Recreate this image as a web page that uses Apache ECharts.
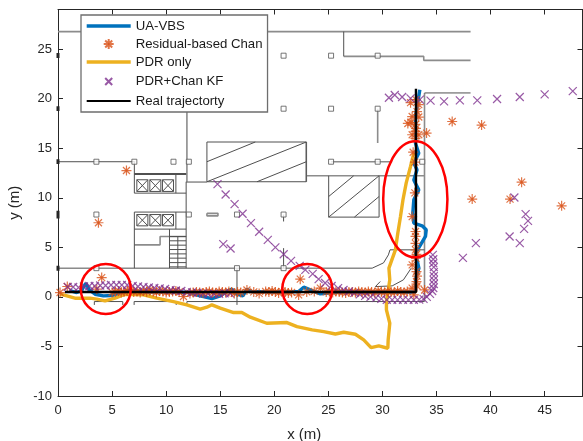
<!DOCTYPE html>
<html><head><meta charset="utf-8">
<style>html,body{margin:0;padding:0;background:#fff}#c{width:583px;height:441px}</style>
<script src="https://cdn.jsdelivr.net/npm/echarts@6/dist/echarts.min.js"></script>
</head><body><div id="c"></div>
<script>
const seriesNames = ['UA-VBS','Residual-based Chan','PDR only','PDR+Chan KF','Real trajectorty'];
const realPath = [[0.65,0.5],[33.1,0.5],[33.1,21]];
const uaVbs = [[1.11,.64],[1.73,.44],[2.19,.64],[2.56,1.38],[2.9,.71],[3.43,.27],[4.2,.1],[4.97,.14],[5.74,.37],[6.51,.64],[8,.5],[10,.55],[12,.45],[13.15,.1],[14.23,-.17],[15,.1],[15.77,.64],[16.08,.78],[16.54,.27],[17.1,.1],[17.47,.78],[17.9,.54],[20,.5],[22.25,.54],[22.72,.98],[23.5,.64],[24.26,.3],[26,.5],[30,.5],[33.06,.5],[33.06,1.72],[33.37,2.9],[33.06,4.41],[33.52,5.25],[33.98,6.1],[34.05,6.77],[33.67,7.17],[32.9,7.44],[32.81,8.45],[32.9,9.8],[33.36,10.8],[32.9,11.8],[33.2,12.83],[32.9,13.5],[33.36,14.5],[33.06,15.5],[33.06,16.5],[33.06,18.2],[33.2,19.2],[33.46,20.9]];
const pdrOnly = [[.19,.27],[.49,.2],[1.57,-.13],[2.96,-.13],[3.58,-.23],[4.35,-.4],[5.28,-.13],[6.2,.27],[7.9,.2],[9.14,-.13],[10.68,-.47],[11.91,-.8],[13.15,-1.24],[13.77,-1.04],[14.23,-.8],[15,-1.14],[16.24,-1.58],[17,-1.58],[17.78,-2.05],[19.3,-2.66],[21.17,-2.59],[22.1,-3],[23.5,-3.33],[24.57,-3.5],[25.65,-3.74],[26.42,-3.57],[27.5,-3.77],[28.27,-4.34],[28.95,-5.12],[29.66,-4.95],[30.5,-5.18],[30.53,-4.34],[30.68,-2.66],[30.37,-1.31],[30.37,-.47],[30.5,.37],[30.68,1.72],[30.6,2.9],[31.2,4.75],[31.42,6.43],[31.67,8.12],[31.9,9.8],[32.2,11.5],[32.6,13.17],[32.9,14.5]];
const chanPoints = [[6.33,12.75],[3.74,7.48],[4.04,1.95],[22.4,1.79],[22.25,.2],[.19,.44],[.86,1.05],[3.58,.78],[11.6,.04],[24.26,.88],[17.47,.7],[36.45,17.7],[39.17,17.34],[34.08,16.53],[42.87,11.58],[38.3,9.87],[41.8,9.87],[46.57,9.19],[33.9,.7],
[32.6,19.6],[33.1,19.9],[33.36,19.4],[33.2,18.7],[32.75,18.2],[33.36,18.15],[32.35,17.5],[32.65,17.6],[33.05,17.4],[33.1,17],[33.05,16.7],[32.75,16.36],[33.36,16.36],[33.05,16],[32.84,14.6],[33,13.6],[33,10.5],[32.75,8.1],[33.06,6.6],[33.06,6.1],[33.06,5.4],[33.06,4.75],[33.15,4.3],[33.1,3.9],[32.75,3.23],[33.15,2.56],[33.2,2.1],[33.15,1.55],[33.2,1.1],[32.75,.88],[32.9,.2],
[5,.45],[5.3,.5],[5.6,.6],[5.85,.45],[6.1,.5],[6.4,.6],[6.7,.7],[7,.5],[7.3,.55],[7.6,.45],[7.9,.6],[8.2,.5],[8.5,.7],[8.8,.55],[9.1,.45],[9.4,.6],[9.7,.55],[10,.45],[10.3,.5],[10.6,.55],[10.9,.6],[11.2,.5],[12.2,.35],[12.5,.45],[12.8,.5],[13.1,.45],[13.4,.4],[13.7,.5],[14,.55],[14.3,.45],[14.6,.4],[14.9,.55],[15.2,.5],[15.5,.45],[15.8,.55],[16.05,.5],[16.3,.35],[16.6,.5],[16.9,.45],[18.1,.5],[18.6,.35],[19.2,.55],[19.5,.5],[19.8,.6],[20.1,.5],[20.4,.4],[20.7,.55],[21,.5],[21.3,.4],[21.6,.45],[23,.5],[23.7,.55],[24.8,.5],[25.1,.55],[25.4,.45],[25.7,.55],[26,.5],[26.3,.45],[26.6,.4],[26.9,.5],[27.2,.5],[27.5,.45],[27.8,.55],[28.1,.5],[28.4,.45],[28.7,.55],[29,.5],[29.3,.4],[29.6,.6],[29.9,.5],[30.2,.45],[30.5,.55],[30.8,.5],[31.1,.45],[31.4,.6],[31.7,.5],[32,.45],[32.3,.55]];
const kfPoints = [[.9,1.0],[1.4,1.0],[1.9,.95],[2.4,1.05],[2.9,1.1],[3.4,1.1],[3.9,1.15],[4.4,1.15],[4.9,1.2],[5.4,1.2],[5.9,1.2],[6.4,1.2],[6.9,1.1],[7.4,1.05],[7.9,1],[8.4,.95],[8.9,.9],[9.4,.85],[9.9,.8],[10.4,.7],[10.9,.65],[11.4,.6],[11.9,.5],[12.4,.45],[12.9,.4],[13.4,.35],[13.9,.3],[14.4,.3],[14.9,.3],[15.4,.35],[15.9,.35],
[14.75,11.38],[15.5,10.33],[15.28,5.32],[15.96,4.88],[16.33,9.36],[17.07,8.39],[17.84,7.44],[18.6,6.57],[19.4,5.76],[20.1,5],[20.87,4.3],[21.55,3.64],[22.35,3.13],[22.87,2.73],[23.55,2.33],[24.1,1.8],[24.7,1.4],[25.3,1.1],[25.9,.88],[26.4,.7],[26.9,.55],[27.4,.4],[27.9,.25],[28.4,.1],[28.9,0],[29.4,-.1],[29.9,-.2],[30.4,-.3],[30.9,-.3],[31.4,-.3],[31.9,-.3],[32.4,-.3],[32.9,-.3],[33.4,-.28],[33.8,-.2],[34.1,0],[34.4,.3],[34.6,.6],[34.7,.9],[34.75,1.3],[34.75,1.7],[34.75,2.1],[34.75,2.5],[34.75,3],[34.7,3.4],[34.7,3.8],[34.66,4.24],
[30.6,20.1],[31.14,20.37],[31.82,20.17],[32.6,20.03],[33.46,19.9],[34.45,19.8],[35.7,19.73],[37.16,19.83],[38.77,19.83],[40.6,19.97],[42.7,20.17],[45,20.44],[47.6,20.77],
[42.2,10.03],[43.24,8.35],[43.46,7.67],[43.1,6.87],[41.76,6.09],[42.7,5.42],[38.64,5.42],[37.44,3.94]];
const ellipses = [[4.42,.8,2.31,2.52],[23.05,.8,2.31,2.52],[33.04,9.85,2.97,5.86]];
const pillars = [[3.55,13.64],[7.06,13.64],[10.68,13.64],[12.1,13.64],[20.86,24.34],[20.86,18.99],[25.25,24.34],[29.56,24.34],[25.25,18.99],[29.56,18.99],[25.25,13.64],[29.56,13.64],[33.68,13.64],[3.55,8.31],[12.1,8.31],[16.55,8.31],[20.86,8.31],[3.55,2.9],[16.55,2.9],[20.86,2.9]];
const edgePillars = [[[0,24.6],[0,24.1]],[[0,19.25],[0,18.75]],[[0,13.9],[0,13.4]],[[0,8.7],[0,7.9]],[[0,3.15],[0,2.65]]];
const grayWalls = [
 [[0,26.77],[38.15,26.77]],
 [[33.89,20.58],[33.89,-.47]],
 [[11.92,26.77],[11.92,11.62]],
 [[22.96,12.22],[33.89,12.22]],
 [[22.96,15.63],[22.96,11.62]],
 [[25.25,13.64],[30.9,13.64]],
 [[29.56,18.99],[29.56,15.53]],
 [[26.42,24.27],[33.82,24.27],[33.82,23.87],[38.15,23.87]],
 [[13.77,8.43],[14.79,8.43],[14.79,8.18],[13.77,8.18],[13.77,8.43]],
 [[7.06,5.25],[9.44,5.25],[9.44,6.09],[11.85,6.09]]
];
const darkWalls = [
 [[26.42,26.77],[26.42,24.27]],
 [[33.89,20.58],[38.15,20.58]],
 [[0,13.64],[7.13,13.64]],
 [[7.06,12.39],[11.85,12.39]],
 [[7.06,13.64],[7.06,10.47],[11.85,10.47]],
 [[10.9,12.39],[10.9,10.47]],
 [[7.06,8.56],[11.85,8.56]],
 [[7.06,8.56],[7.06,2.9]],
 [[10.9,8.56],[10.9,6.84]],
 [[7.06,6.84],[11.85,6.84]],
 [[11.85,11.62],[11.85,2.9]],
 [[11.85,11.59],[13.77,11.59]],
 [[10.31,6.84],[10.31,2.9]],
 [[10.31,6.09],[11.85,6.09]],[[10.31,5.66],[11.85,5.66]],[[10.31,5.22],[11.85,5.22]],[[10.31,4.78],[11.85,4.78]],[[10.31,4.34],[11.85,4.34]],[[10.31,3.91],[11.85,3.91]],[[10.31,3.46],[11.85,3.46]],[[10.31,3.03],[11.85,3.03]],
 [[11.08,6.09],[11.08,2.9]],
 [[0,2.9],[29.05,2.9],[30.1,3.43],[30.55,4.24],[30.7,4.75],[33.89,4.75]],
 [[29.35,1.04],[30.9,1.11],[31.94,1.72],[32.66,2.9]],
 [[29.35,1.04],[29.8,1.55]],
 [[3.36,-.81],[3.36,-.47],[5.99,-.47],[5.99,-.81]],
 [[7.04,-.81],[7.04,-.47],[10.93,-.47],[10.93,-.81]],
 [[11.92,-.81],[11.92,-.47],[33.89,-.47]],
 [[16.55,2.9],[16.55,-.81]],
 [[20.86,4.92],[20.86,2.9]],
 [[20.86,8.31],[20.86,7.61]],
 [[13.77,15.63],[22.96,15.63],[22.96,11.62],[13.77,11.62],[13.77,15.63]],
 [[13.77,13.64],[18.24,15.63]],[[13.77,11.62],[22.96,15.63]],[[18.4,11.62],[22.96,13.64]],
 [[25.03,12.22],[25.03,8.05],[29.69,8.05],[29.69,12.22]],
 [[25.03,10.13],[27.34,12.22]],[[25.03,8.05],[29.69,12.22]],[[27.41,8.05],[29.69,10.13]],
 [[7.29,11.82],[8.31,11.82],[8.31,10.64],[7.29,10.64],[7.29,11.82],[8.31,10.64]],[[8.31,11.82],[7.29,10.64]],
 [[8.49,11.82],[9.51,11.82],[9.51,10.64],[8.49,10.64],[8.49,11.82],[9.51,10.64]],[[9.51,11.82],[8.49,10.64]],
 [[9.66,11.82],[10.68,11.82],[10.68,10.64],[9.66,10.64],[9.66,11.82],[10.68,10.64]],[[10.68,11.82],[9.66,10.64]],
 [[7.29,8.31],[8.31,8.31],[8.31,7.17],[7.29,7.17],[7.29,8.31],[8.31,7.17]],[[8.31,8.31],[7.29,7.17]],
 [[8.49,8.31],[9.51,8.31],[9.51,7.17],[8.49,7.17],[8.49,8.31],[9.51,7.17]],[[9.51,8.31],[8.49,7.17]],
 [[9.66,8.31],[10.68,8.31],[10.68,7.17],[9.66,7.17],[9.66,8.31],[10.68,7.17]],[[10.68,8.31],[9.66,7.17]]
];
const xTicks = {min:0,max:48.5,interval:5};
const yTicks = {min:-10,max:29,interval:5};

const FONT='"Liberation Sans",Arial,sans-serif', INK='#262626';
const STAR='path://M5 0V10M0 5H10M1.5 1.5L8.5 8.5M8.5 1.5L1.5 8.5M3.6 5L5 3.6L6.4 5L5 6.4Z';
const CROSS='path://M0 0L10 10M10 0L0 10';
const STAR_ICON='path://M-2 -2M12 12M5 0V10M0 5H10M1.5 1.5L8.5 8.5M8.5 1.5L1.5 8.5M3.6 5L5 3.6L6.4 5L5 6.4Z';
const CROSS_ICON='path://M-5 -5M15 15M0 0L10 10M10 0L0 10';
function wall(pts,color,w){return {type:'line',data:pts,showSymbol:false,symbol:'none',silent:true,animation:false,z:1,lineStyle:{color:color,width:w},itemStyle:{color:color}};}
function xAx(pos,show,extra){return Object.assign({type:'value',position:pos,min:xTicks.min,max:xTicks.max,interval:xTicks.interval,splitLine:{show:false},
 axisLine:{onZero:false,lineStyle:{color:INK,width:1}},axisTick:{inside:true,length:5,lineStyle:{color:INK}},
 axisLabel:{show:show,color:INK,fontFamily:FONT,fontSize:13,margin:8,showMaxLabel:false}},extra);}
function yAx(pos,show,extra){return Object.assign({type:'value',position:pos,min:yTicks.min,max:yTicks.max,interval:yTicks.interval,splitLine:{show:false},
 axisLine:{onZero:false,lineStyle:{color:INK,width:1}},axisTick:{inside:true,length:5,lineStyle:{color:INK}},
 axisLabel:{show:show,color:INK,fontFamily:FONT,fontSize:13,margin:6,showMaxLabel:false}},extra);}
const nameX={name:'x (m)',nameLocation:'middle',nameGap:31,nameTextStyle:{color:INK,fontFamily:FONT,fontSize:15,padding:[0,32,0,0]}};
const nameY={name:'y (m)',nameLocation:'middle',nameGap:33,nameTextStyle:{color:INK,fontFamily:FONT,fontSize:15}};
const noMark={color:'transparent',borderWidth:0};
const series=[
 ...grayWalls.map(p=>wall(p,'#8c8c8c',1.6)),
 ...darkWalls.map(p=>wall(p,'#505050',1)),
 ...edgePillars.map(p=>wall(p,'#262626',3)),
 wall([[7.06,12.39],[11.85,12.39]],'#505050',2),
 {type:'scatter',data:pillars,symbol:'rect',symbolSize:5,silent:true,z:1,itemStyle:{color:'#fff',borderColor:'#555',borderWidth:1}},
 {type:'line',name:seriesNames[0],data:uaVbs,symbol:'none',z:3,lineStyle:{color:'#0072BD',width:3.4},itemStyle:{color:'#0072BD'}},
 {type:'line',name:seriesNames[2],data:pdrOnly,symbol:'none',z:4,lineStyle:{color:'#EDB120',width:3.4},itemStyle:{color:'#EDB120'}},
 {type:'scatter',name:seriesNames[1],data:chanPoints,symbol:STAR,symbolSize:10,z:5,itemStyle:{color:'#D95319',borderColor:'#D95319',borderWidth:1.2}},
 {type:'scatter',name:seriesNames[3],data:kfPoints,symbol:CROSS,symbolSize:8,z:6,itemStyle:{color:'none',borderColor:'#7E2F8E',borderWidth:1.2}},
 {type:'line',name:seriesNames[4],data:realPath,symbol:'none',z:7,lineStyle:{color:'#000',width:2.4},itemStyle:{color:'#000'}},
 {type:'custom',data:ellipses,silent:true,z:8,encode:{x:0,y:1},clip:false,renderItem:function(p,api){
   const c=api.coord([api.value(0),api.value(1)]), s=api.size([api.value(2),api.value(3)]);
   return {type:'ellipse',shape:{cx:c[0],cy:c[1],rx:s[0],ry:s[1]},style:{fill:'none',stroke:'#FF0000',lineWidth:2.5}};
 }}
];
const chart=echarts.init(document.getElementById('c'),null,{renderer:'canvas'});
chart.setOption({animation:false,backgroundColor:'#fff',
 grid:{left:58,right:0.5,top:9.5,bottom:45,containLabel:false,outerBoundsMode:'none'},
 xAxis:[xAx('bottom',true,nameX),xAx('top',false,{})],
 yAxis:[yAx('left',true,nameY),yAx('right',false,{})],
 legend:{orient:'vertical',left:81,top:15,padding:[4,5,4,4],itemWidth:44,itemHeight:14,itemGap:3,backgroundColor:'#fff',borderColor:'#6e6e6e',borderWidth:1.3,
  textStyle:{color:'#1a1a1a',fontFamily:FONT,fontSize:13.2,lineHeight:14,height:14},selectedMode:false,z:20,
  data:[{name:seriesNames[0],itemStyle:noMark,lineStyle:{width:3.4,color:'#0072BD'}},{name:seriesNames[1],icon:STAR_ICON},{name:seriesNames[2],itemStyle:noMark,lineStyle:{width:3.4,color:'#EDB120'}},{name:seriesNames[3],icon:CROSS_ICON},{name:seriesNames[4],itemStyle:noMark,lineStyle:{width:2,color:'#000'}}]},
 tooltip:{show:false},series:series});
</script></body></html>
